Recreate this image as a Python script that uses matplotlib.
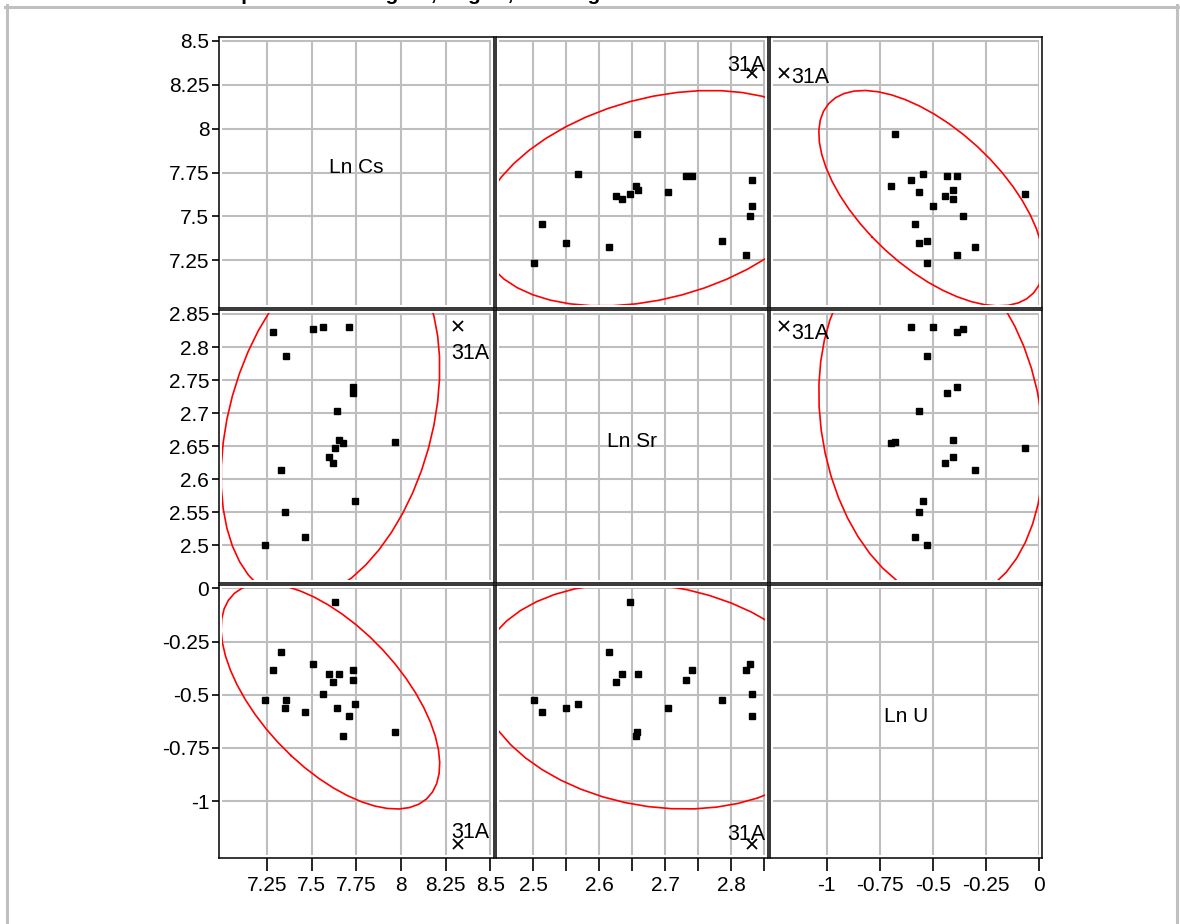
import numpy as np
import matplotlib.pyplot as plt
from matplotlib.lines import Line2D
from matplotlib.patches import Rectangle
from matplotlib.ticker import FixedLocator, FixedFormatter

plt.rcParams['font.family'] = ['Liberation Sans', 'DejaVu Sans']

# 数据：每个样品的对数浓度 (Ln Cs, Ln Sr, Ln U)
ln_cs = [7.968, 7.741, 7.460, 7.349, 7.235, 7.325, 7.619, 7.597, 7.629, 7.675,
         7.651, 7.640, 7.730, 7.730, 7.358, 7.280, 7.709, 7.561, 7.505]
ln_sr = [2.657, 2.568, 2.513, 2.550, 2.501, 2.614, 2.625, 2.634, 2.647, 2.655,
         2.659, 2.704, 2.731, 2.740, 2.786, 2.822, 2.831, 2.831, 2.828]
ln_u = [-0.676, -0.545, -0.582, -0.563, -0.526, -0.298, -0.441, -0.403, -0.064, -0.695,
        -0.403, -0.563, -0.431, -0.384, -0.526, -0.384, -0.601, -0.497, -0.356]

# 标记出来的离群样品
outlier_label = "31A"
outlier_cs = 8.317
outlier_sr = 2.832
outlier_u = -1.201

var_names = ["Ln Cs", "Ln Sr", "Ln U"]

cs_ticks = [7.25, 7.5, 7.75, 8, 8.25, 8.5]
cs_labels = ["7.25", "7.5", "7.75", "8", "8.25", "8.5"]
sr_ticks = [2.5, 2.55, 2.6, 2.65, 2.7, 2.75, 2.8, 2.85]
sr_ylabels = ["2.5", "2.55", "2.6", "2.65", "2.7", "2.75", "2.8", "2.85"]
sr_xlabels = ["2.5", "", "2.6", "", "2.7", "", "2.8", ""]
u_ticks = [-1, -0.75, -0.5, -0.25, 0]
u_labels = ["-1", "-0.75", "-0.5", "-0.25", "0"]

title = "Scatterplot Matrix: Log Cs, Log Sr, and Log U"


def density_ellipse(x, y, level=0.95, n=48):
    """95% 密度椭圆 (二元正态)"""
    x = np.asarray(x)
    y = np.asarray(y)
    vals, vecs = np.linalg.eigh(np.cov(x, y))
    r = np.sqrt(-2 * np.log(1 - level))
    t = np.linspace(0, 2 * np.pi, n + 1)
    circ = np.vstack([np.cos(t), np.sin(t)])
    pts = vecs @ (np.sqrt(vals)[:, None] * circ) * r
    return x.mean() + pts[0], y.mean() + pts[1]


def main():
    W, H = 1180, 924
    fig = plt.figure(figsize=(W / 100, H / 100), dpi=100)

    # 外框 (灰色)
    gray = '#C0C0C0'
    fig.add_artist(Line2D([5 / W, 1], [1 - 6.5 / H, 1 - 6.5 / H], color=gray, lw=2.2))
    fig.add_artist(Line2D([6.5 / W, 6.5 / W], [0, 1 - 5 / H], color=gray, lw=2.2))
    fig.add_artist(Line2D([1177 / W, 1177 / W], [0, 1 - 5 / H], color=gray, lw=2.2))
    fig.text(170 / W, 1.0, title, fontsize=15, fontweight='bold', va='baseline', ha='left')

    full = [ln_cs + [outlier_cs], ln_sr + [outlier_sr], ln_u + [outlier_u]]
    pts = [ln_cs, ln_sr, ln_u]
    outl = [outlier_cs, outlier_sr, outlier_u]
    lims = [(6.98, 8.52), (2.4433, 2.856), (-1.268, 0.016)]
    ticks = [cs_ticks, sr_ticks, u_ticks]
    xlabels = [cs_labels, sr_xlabels, u_labels]
    ylabels = [cs_labels, sr_ylabels, u_labels]

    cols = [(219, 494), (496, 768), (770, 1042)]
    rows = [(37, 308), (310, 583), (585, 858)]

    # 31A 标签的偏移 (points)
    offsets = {(0, 1): (-4.3, 5.5), (0, 2): (19, -3.6), (1, 0): (9, -20),
               (1, 2): (19, -5.8), (2, 0): (9, 8), (2, 1): (-4.3, 6.5)}

    for i in range(3):      # 行 -> y 变量
        for j in range(3):  # 列 -> x 变量
            x0, x1 = cols[j]
            y0, y1 = rows[i]
            ax = fig.add_axes([x0 / W, 1 - y1 / H, (x1 - x0) / W, (y1 - y0) / H])
            ax.set_xlim(lims[j])
            ax.set_ylim(lims[i])
            ax.xaxis.set_major_locator(FixedLocator(ticks[j]))
            ax.yaxis.set_major_locator(FixedLocator(ticks[i]))
            ax.grid(True, color='#BEBEBE', lw=1.5, zorder=0)
            ax.set_axisbelow(True)
            for s in ax.spines.values():
                s.set_linewidth(1.1)
                s.set_color('black')

            # 框内留一点边距再裁剪
            px, py = 3 / (x1 - x0), 3 / (y1 - y0)
            inner = Rectangle((px, py), 1 - 2 * px, 1 - 2 * py, transform=ax.transAxes,
                              fill=False, visible=False)
            ax.add_patch(inner)
            for gl in ax.get_xgridlines() + ax.get_ygridlines():
                gl.set_clip_path(inner)

            if i == 2:
                ax.xaxis.set_major_formatter(FixedFormatter(xlabels[j]))
                ax.tick_params(axis='x', length=9, width=1.2, pad=4, labelsize=15)
            else:
                ax.tick_params(axis='x', length=0, labelbottom=False)
            if j == 0:
                ax.yaxis.set_major_formatter(FixedFormatter(ylabels[i]))
                ax.tick_params(axis='y', length=5, width=1.2, pad=2, labelsize=15)
            else:
                ax.tick_params(axis='y', length=0, labelleft=False)

            if i == j:
                ax.text(0.5, 0.52, var_names[i], transform=ax.transAxes,
                        ha='center', va='center', fontsize=15)
                continue

            ex, ey = density_ellipse(full[j], full[i])
            line, = ax.plot(ex, ey, color='red', lw=1.2, zorder=2)
            line.set_clip_path(inner)
            ax.plot(pts[j], pts[i], 's', color='black', ms=4.3, zorder=3)
            ax.plot(outl[j], outl[i], 'x', color='black', ms=7, mew=1.3, zorder=3)
            ax.annotate(outlier_label, (outl[j], outl[i]), xytext=offsets[(i, j)],
                        textcoords='offset points', ha='center', va='center',
                        fontsize=15.5, annotation_clip=False)

    plt.savefig('out.png', dpi=100)


if __name__ == "__main__":
    main()
